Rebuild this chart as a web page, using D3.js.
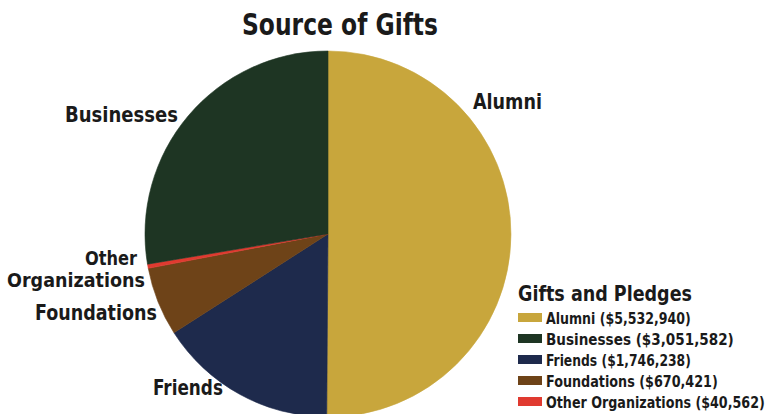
<!DOCTYPE html>
<html>
<head>
<meta charset="utf-8">
<script src="https://cdn.jsdelivr.net/npm/d3@7"></script>
<style>
  body { margin: 0; background: #fff; }
  text { font-family: "DejaVu Sans", sans-serif; font-stretch: condensed; font-weight: bold; fill: #1a1a1a; }
</style>
</head>
<body>
<div class="chart"></div>
<script>
let categories = ['Alumni', 'Friends', 'Foundations', 'Other Organizations', 'Businesses'];
let amounts = [5532940, 1746238, 670421, 40562, 3051582];
let colors = ['#c8a63c', '#1e2a4c', '#6e4318', '#e03a30', '#1e3523'];
let legendOrder = ['Alumni', 'Businesses', 'Friends', 'Foundations', 'Other Organizations'];

let width = 773;
let height = 414;
let cx = 328, cy = 234, radius = 183;

let svg = d3.select('.chart')
            .append('svg')
            .attr('width', width)
            .attr('height', height);

let data = categories.map((c, i) => ({name: c, value: amounts[i], color: colors[i]}));

let pie = d3.pie().sort(null).value(d => d.value);
let arc = d3.arc().innerRadius(0).outerRadius(radius);

svg.append('g')
   .attr('transform', 'translate(' + cx + ',' + cy + ')')
   .selectAll('path')
   .data(pie(data))
   .enter()
   .append('path')
   .attr('d', arc)
   .attr('fill', d => d.data.color)
   .attr('stroke', d => d.data.color)
   .attr('stroke-width', 0.6);

// squeeze a text horizontally so it spans w pixels (the original uses a condensed face)
function fitText(parent, str, x, y, w, size) {
  let t = parent.append('text')
                .style('font-size', size + 'px')
                .text(str);
  let natural = t.node().getComputedTextLength();
  t.attr('transform', 'translate(' + x + ',' + y + ') scale(' + (w / natural) + ',1)');
  return t;
}

fitText(svg, 'Source of Gifts', 242, 35, 196, 30);

// slice labels, placed by hand like the original
let labels = [
  {text: 'Alumni', x: 473, y: 109, w: 69, size: 21},
  {text: 'Businesses', x: 65, y: 122, w: 113, size: 21},
  {text: 'Other', x: 85, y: 265, w: 52, size: 20},
  {text: 'Organizations', x: 7, y: 287, w: 138, size: 20},
  {text: 'Foundations', x: 35, y: 320, w: 122, size: 21},
  {text: 'Friends', x: 153, y: 395, w: 70, size: 21}
];
labels.forEach(l => fitText(svg, l.text, l.x, l.y, l.w, l.size));

// legend
let fmt = d3.format(',');
let legendWidths = [145, 188, 145, 172, 219];
fitText(svg, 'Gifts and Pledges', 518, 301, 174, 21);

legendOrder.map(n => data.find(d => d.name === n)).forEach((d, i) => {
  let y = 324 + i * 21;
  svg.append('rect')
     .attr('x', 518)
     .attr('y', y - 11)
     .attr('width', 24)
     .attr('height', 9)
     .attr('fill', d.color);
  fitText(svg, d.name + ' ($' + fmt(d.value) + ')', 546, y, legendWidths[i], 16);
});
</script>
</body>
</html>
